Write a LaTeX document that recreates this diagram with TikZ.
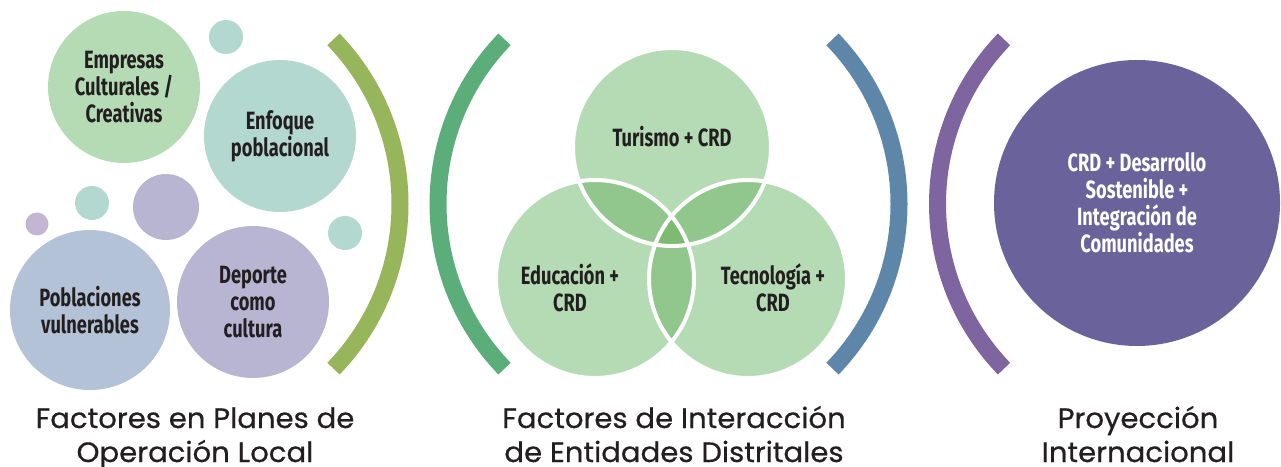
\documentclass[tikz,border=0pt]{standalone}
\usepackage{fontspec}
\newfontfamily\cond[FakeStretch=0.73]{Fira Sans}
\newfontfamily\labfont[FakeStretch=1.04,FakeBold=0.6]{Poppins}
\definecolor{cGreenL}{HTML}{B5DBB5}
\definecolor{cTeal}{HTML}{B3D8D0}
\definecolor{cPurL}{HTML}{B8B5D3}
\definecolor{cPink}{HTML}{C4B5D3}
\definecolor{cBlueG}{HTML}{B3C2D6}
\definecolor{cVenn}{HTML}{B5DBB5}
\definecolor{cVenn2}{HTML}{91C78D}
\definecolor{cVenn3}{HTML}{7DBB72}
\definecolor{cArcA}{HTML}{97B55A}
\definecolor{cArcB}{HTML}{5BAE7A}
\definecolor{cArcC}{HTML}{5E86A8}
\definecolor{cArcD}{HTML}{7E65A0}
\definecolor{cBig}{HTML}{6A639B}
\definecolor{cText}{HTML}{231F20}
\tikzset{
  bubble/.style={circle, inner sep=0pt, draw=none, text=cText, align=center,
    font=\cond\bfseries\fontsize{25}{27}\selectfont},
  dot/.style={circle, inner sep=0pt, draw=none},
  vtext/.style={inner sep=0pt, text=cText, align=center,
    font=\cond\bfseries\fontsize{25}{27}\selectfont},
  bracket/.style={line width=17pt, line cap=butt},
  caption/.style={inner sep=0pt, align=center, text=cText,
    font=\labfont\fontsize{28}{34}\selectfont},
}
\begin{document}
\begin{tikzpicture}[x=1pt,y=1pt]
\useasboundingbox (0,0) rectangle (1281,466);
% ---------- group 1: bubbles ----------
\node[bubble, fill=cGreenL, minimum size=152pt] (emp) at (124,379) {Empresas\\Culturales /\\Creativas};
\node[dot, fill=cTeal, minimum size=34pt] (d1) at (226,429) {};
\node[bubble, fill=cTeal, minimum size=152pt] (enf) at (280,330) {Enfoque\\poblacional};
\node[dot, fill=cTeal, minimum size=34pt] (d2) at (92,263) {};
\node[dot, fill=cPurL, minimum size=66pt] (d3) at (166,259) {};
\node[dot, fill=cPink, minimum size=23pt] (d4) at (37,242) {};
\node[dot, fill=cTeal, minimum size=34pt] (d5) at (345,233) {};
\node[bubble, fill=cBlueG, minimum size=160pt] (pob) at (90,156) {Poblaciones\\vulnerables};
\node[bubble, fill=cPurL, minimum size=152pt] (dep) at (253,164) {Deporte\\como\\cultura};
% ---------- brackets ----------
\coordinate (ca) at (163,262);
\coordinate (cb) at (675,262);
\coordinate (cc) at (662,262);
\coordinate (cd) at (1174.5,262);
\draw[bracket, cArcA] (ca) ++(-44:237pt) arc[start angle=-44, end angle=44, radius=237pt];
\draw[bracket, cArcB] (cb) ++(136:237pt) arc[start angle=136, end angle=224, radius=237pt];
\draw[bracket, cArcC] (cc) ++(-44:237pt) arc[start angle=-44, end angle=44, radius=237pt];
\draw[bracket, cArcD] (cd) ++(136:237pt) arc[start angle=136, end angle=224, radius=237pt];
% ---------- group 2: venn ----------
\coordinate (vt) at (672,319);
\coordinate (vl) at (595,187);
\coordinate (vr) at (748,187);
\fill[cVenn] (vt) circle (99pt) (vl) circle (99pt) (vr) circle (99pt);
\begin{scope}\clip (vt) circle (99pt); \fill[cVenn2] (vl) circle (99pt) (vr) circle (99pt); \end{scope}
\begin{scope}\clip (vl) circle (99pt); \fill[cVenn2] (vr) circle (99pt); \end{scope}
\begin{scope}\clip (vt) circle (99pt); \clip (vl) circle (99pt); \fill[cVenn3] (vr) circle (99pt); \end{scope}
\draw[white, line width=4pt] (vt) circle (99pt) (vl) circle (99pt) (vr) circle (99pt);
\node[vtext] (tur) at (672,329) {Turismo + CRD};
\node[vtext] (edu) at (570,178) {Educación +\\CRD};
\node[vtext] (tec) at (773,178) {Tecnología +\\CRD};
% ---------- group 3 ----------
\node[bubble, fill=cBig, text=white, minimum size=286pt] (big) at (1137,263)
  {CRD + Desarrollo\\Sostenible +\\Integración de\\Comunidades};
% ---------- captions ----------
\node[caption, anchor=base] (cap1) at (195,4) {Factores en Planes de\\Operación Local};
\node[caption, anchor=base] (cap2) at (674,4) {Factores de Interacción\\de Entidades Distritales};
\node[caption, anchor=base] (cap3) at (1138,4) {Proyección\\Internacional};
\end{tikzpicture}
\end{document}
